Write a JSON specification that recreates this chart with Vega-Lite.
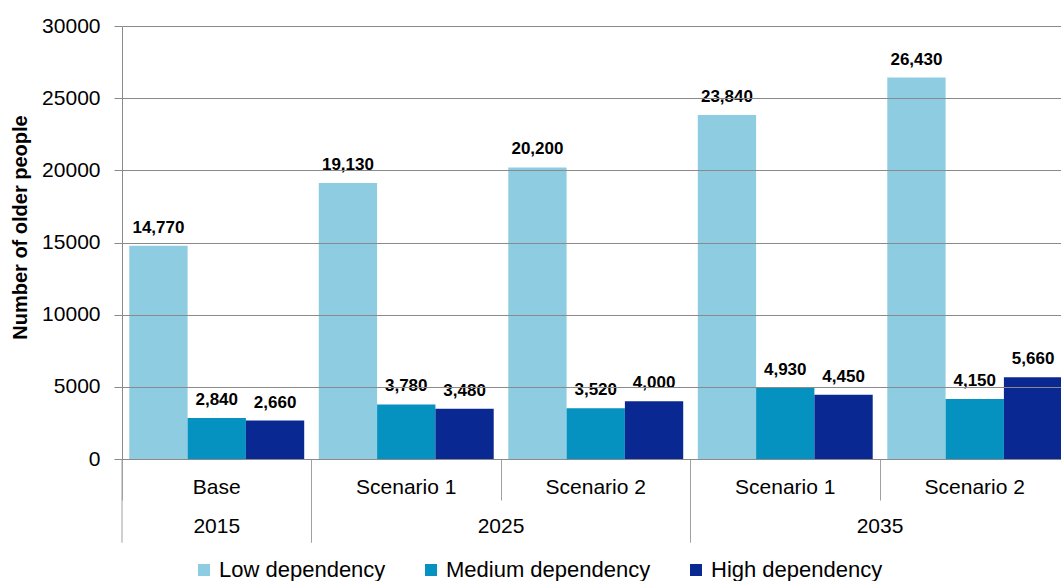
{
  "$schema": "https://vega.github.io/schema/vega-lite/v6.json",
  "width": 939,
  "height": 433,
  "autosize": {"type": "none"},
  "padding": {"left": 122, "top": 26, "right": 0, "bottom": 122},
  "config": {
    "font": "Liberation Sans",
    "view": {"stroke": null},
    "legend": {
      "orient": "none",
      "legendX": 71,
      "legendY": 533,
      "direction": "horizontal",
      "symbolType": "square",
      "symbolSize": 144,
      "symbolStrokeWidth": 0,
      "labelFontSize": 22,
      "labelColor": "#000000",
      "labelFont": "Liberation Sans",
      "labelLimit": 400,
      "labelOffset": 4,
      "columnPadding": 34,
      "title": null
    }
  },
  "datasets": {
    "bars": [
      {"year": "2015", "scenario": "Base", "key": "2015|Base", "dependency": "Low dependency", "value": 14770},
      {"year": "2015", "scenario": "Base", "key": "2015|Base", "dependency": "Medium dependency", "value": 2840},
      {"year": "2015", "scenario": "Base", "key": "2015|Base", "dependency": "High dependency", "value": 2660},
      {"year": "2025", "scenario": "Scenario 1", "key": "2025|Scenario 1", "dependency": "Low dependency", "value": 19130},
      {"year": "2025", "scenario": "Scenario 1", "key": "2025|Scenario 1", "dependency": "Medium dependency", "value": 3780},
      {"year": "2025", "scenario": "Scenario 1", "key": "2025|Scenario 1", "dependency": "High dependency", "value": 3480},
      {"year": "2025", "scenario": "Scenario 2", "key": "2025|Scenario 2", "dependency": "Low dependency", "value": 20200},
      {"year": "2025", "scenario": "Scenario 2", "key": "2025|Scenario 2", "dependency": "Medium dependency", "value": 3520},
      {"year": "2025", "scenario": "Scenario 2", "key": "2025|Scenario 2", "dependency": "High dependency", "value": 4000},
      {"year": "2035", "scenario": "Scenario 1", "key": "2035|Scenario 1", "dependency": "Low dependency", "value": 23840},
      {"year": "2035", "scenario": "Scenario 1", "key": "2035|Scenario 1", "dependency": "Medium dependency", "value": 4930},
      {"year": "2035", "scenario": "Scenario 1", "key": "2035|Scenario 1", "dependency": "High dependency", "value": 4450},
      {"year": "2035", "scenario": "Scenario 2", "key": "2035|Scenario 2", "dependency": "Low dependency", "value": 26430},
      {"year": "2035", "scenario": "Scenario 2", "key": "2035|Scenario 2", "dependency": "Medium dependency", "value": 4150},
      {"year": "2035", "scenario": "Scenario 2", "key": "2035|Scenario 2", "dependency": "High dependency", "value": 5660}
    ],
    "yearStarts": [
      {"key": "2015|Base"},
      {"key": "2025|Scenario 1"},
      {"key": "2035|Scenario 1"}
    ],
    "yearCentered": [
      {"key": "2015|Base", "year": "2015"}
    ],
    "yearEdge": [
      {"key": "2025|Scenario 2", "year": "2025"},
      {"key": "2035|Scenario 2", "year": "2035"}
    ]
  },
  "layer": [
    {
      "data": {"name": "bars"},
      "mark": {"type": "bar"},
      "encoding": {
        "x": {
          "field": "key",
          "type": "nominal",
          "sort": ["2015|Base", "2025|Scenario 1", "2025|Scenario 2", "2035|Scenario 1", "2035|Scenario 2"],
          "scale": {"paddingInner": 0, "paddingOuter": 0, "range": [0, 947.5]},
          "axis": {
            "title": null,
            "labelExpr": "split(datum.value, '|')[1]",
            "labelAngle": 0,
            "labelFontSize": 21,
            "labelColor": "#000000",
            "labelBaseline": "middle",
            "labelPadding": -13,
            "bandPosition": 0,
            "tickSize": 41,
            "tickColor": "#a0a0a0",
            "domainColor": "#8a8a8a",
            "grid": false
          }
        },
        "xOffset": {
          "field": "dependency",
          "type": "nominal",
          "sort": ["Low dependency", "Medium dependency", "High dependency"],
          "scale": {"paddingInner": 0, "paddingOuter": 0.125}
        },
        "y": {
          "field": "value",
          "type": "quantitative",
          "scale": {"domain": [0, 30000], "nice": false},
          "axis": {
            "values": [0, 5000, 10000, 15000, 20000, 25000, 30000],
            "format": "d",
            "labelFontSize": 21,
            "labelColor": "#000000",
            "labelPadding": 14,
            "tickSize": 8,
            "tickColor": "#8a8a8a",
            "domainColor": "#8a8a8a",
            "gridColor": "#8a8a8a",
            "grid": true,
            "zindex": 1,
            "title": "Number of older people",
            "titleFontSize": 20,
            "titleFontWeight": "bold",
            "titleColor": "#000000",
            "titleAngle": 270,
            "titleX": -102,
            "titleY": 201,
            "titleAlign": "center",
            "titleBaseline": "middle"
          }
        },
        "color": {
          "field": "dependency",
          "type": "nominal",
          "sort": ["Low dependency", "Medium dependency", "High dependency"],
          "scale": {"range": ["#8ecde1", "#0592c0", "#0a2891"]}
        }
      }
    },
    {
      "data": {"name": "bars"},
      "mark": {"type": "text", "fontSize": 17, "fontWeight": "bold", "baseline": "alphabetic", "dy": -13, "color": "#000000"},
      "encoding": {
        "x": {"field": "key", "type": "nominal", "sort": ["2015|Base", "2025|Scenario 1", "2025|Scenario 2", "2035|Scenario 1", "2035|Scenario 2"]},
        "xOffset": {"field": "dependency", "type": "nominal", "sort": ["Low dependency", "Medium dependency", "High dependency"]},
        "y": {"field": "value", "type": "quantitative"},
        "text": {"field": "value", "type": "quantitative", "format": ","}
      }
    },
    {
      "data": {"name": "yearStarts"},
      "mark": {"type": "rule", "color": "#a0a0a0", "strokeWidth": 1},
      "encoding": {
        "x": {"field": "key", "type": "nominal", "bandPosition": 0},
        "y": {"datum": 0, "type": "quantitative"},
        "y2": {"datum": -5800}
      }
    },
    {
      "data": {"name": "yearCentered"},
      "mark": {"type": "text", "fontSize": 21, "baseline": "middle", "color": "#000000"},
      "encoding": {
        "x": {"field": "key", "type": "nominal", "bandPosition": 0.5},
        "y": {"datum": -4690, "type": "quantitative"},
        "text": {"field": "year"}
      }
    },
    {
      "data": {"name": "yearEdge"},
      "mark": {"type": "text", "fontSize": 21, "baseline": "middle", "color": "#000000"},
      "encoding": {
        "x": {"field": "key", "type": "nominal", "bandPosition": 0},
        "y": {"datum": -4690, "type": "quantitative"},
        "text": {"field": "year"}
      }
    }
  ]
}
